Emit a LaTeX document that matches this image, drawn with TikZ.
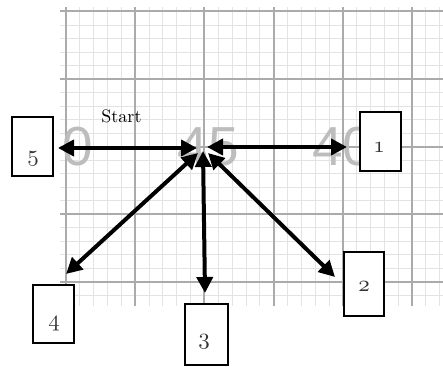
\documentclass[tikz,border=0pt]{standalone}
\usepackage{graphicx}
\usepackage{fontspec}
\newfontfamily\bgfont{Liberation Sans}
\usetikzlibrary{arrows.meta}
\newcommand{\boxdigit}[1]{\scalebox{2.3}{\fontsize{10}{12}\selectfont\legacyoldstylenums{#1}}}
\begin{document}
\begin{tikzpicture}[x=1pt,y=-1pt,
  box/.style={draw=black, line width=1.1pt, fill=white, inner sep=0pt, outer sep=0pt},
  num/.style={inner sep=0pt, text=black!80},
  bignum/.style={inner sep=0pt, text=black!26, font=\bgfont\fontsize{55}{55}\selectfont},
  minorline/.style={draw=black!11, line width=0.8pt},
  majorline/.style={draw=black!33, line width=2pt},
  dbl/.style={line width=4pt, {Triangle[length=16pt,width=16pt]}-{Triangle[length=16pt,width=16pt]}}]
\useasboundingbox (0,0) rectangle (443,366);
\fill[white] (0,0) rectangle (443,366);
% graph paper
\begin{scope}
  \clip (60,8) rectangle (443,305);
  \foreach \i in {-1,...,29} {\draw[minorline] (66+13.84*\i,0) -- (66+13.84*\i,320);}
  \foreach \i in {-6,...,17} {\draw[minorline] (50,79+13.52*\i) -- (450,79+13.52*\i);}
  \foreach \i in {0,...,5} {\draw[majorline] (66+69.2*\i,0) -- (66+69.2*\i,320);}
  \foreach \i in {-1,...,3} {\draw[majorline] (50,79+67.6*\i) -- (450,79+67.6*\i);}
  \node[bignum, anchor=base east] (g50) at (93,165) {0};
  \node[bignum, anchor=base] (g45) at (208.5,165) {45};
  \node[bignum, anchor=base west] (g40) at (312,165) {40};
\end{scope}
% boxes
\node[box, minimum width=41pt, minimum height=59pt] (b5) at (32.5,146.5) {};
\node[box, minimum width=41pt, minimum height=59pt] (b1) at (380.5,141.5) {};
\node[box, minimum width=40pt, minimum height=64pt] (b2) at (364,284) {};
\node[box, minimum width=41pt, minimum height=58pt] (b4) at (53.5,314) {};
\node[box, minimum width=43pt, minimum height=61pt] (b3) at (206.5,334.5) {};
\node[num] (n5) at (33,159) {\boxdigit{5}};
\node[num] (n1) at (379,148) {\boxdigit{1}};
\node[num] (n2) at (364,287) {\boxdigit{2}};
\node[num] (n4) at (54,324) {\boxdigit{4}};
\node[num] (n3) at (204,342) {\boxdigit{3}};
% label
\node[inner sep=0pt, anchor=base] (start) at (121.5,123) {\scalebox{1.8}{\fontsize{10}{12}\selectfont Start}};
% arrow end points
\coordinate (h5) at (197,148);
\coordinate (e5) at (58,148);
\coordinate (h1) at (207,147);
\coordinate (e1) at (347,147);
\coordinate (h4) at (198,153);
\coordinate (e4) at (66,274);
\coordinate (h3) at (203,151);
\coordinate (e3) at (205,293);
\coordinate (h2) at (208,153);
\coordinate (e2) at (335,277);
\draw[dbl] (h5) -- (e5);
\draw[dbl] (h1) -- (e1);
\draw[dbl] (h4) -- (e4);
\draw[dbl] (h2) -- (e2);
\draw[dbl] (h3) -- (e3);
\end{tikzpicture}
\end{document}
